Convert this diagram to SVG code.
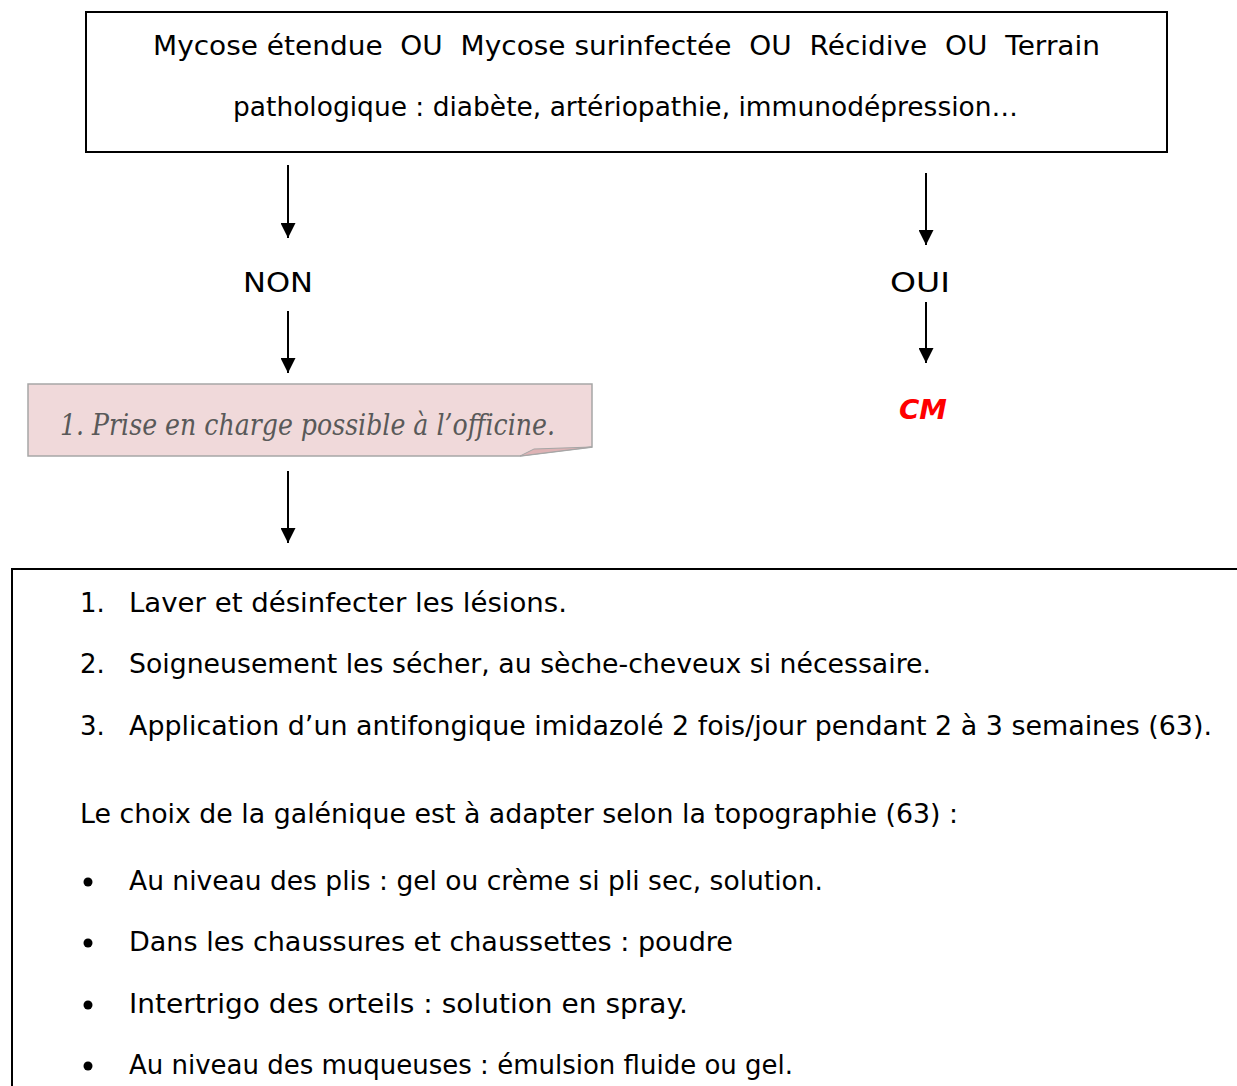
<svg xmlns="http://www.w3.org/2000/svg" width="1237" height="1086" viewBox="0 0 1237 1086">
<style>
.t{font-family:"DejaVu Sans","Noto Sans",sans-serif;font-size:26px;fill:#000}
.box{fill:#fff;stroke:#000;stroke-width:2}
.conn line{stroke:#000;stroke-width:2}
</style>
<defs>
<marker id="ah" viewBox="0 0 10 10" refX="10" refY="5" markerWidth="7.5" markerHeight="7.5" markerUnits="strokeWidth" orient="auto">
<path d="M0,0 L10,5 L0,10 Z" fill="#000"/>
</marker>
</defs>
<rect width="1237" height="1086" fill="#fff"/>
<g id="node-condition">
<rect class="box" x="86" y="12" width="1081" height="140"/>
<text class="t" x="153" y="55" textLength="947" lengthAdjust="spacingAndGlyphs" xml:space="preserve" style="white-space:pre">Mycose étendue  OU  Mycose surinfectée  OU  Récidive  OU  Terrain</text>
<text class="t" x="233" y="116" textLength="785" lengthAdjust="spacingAndGlyphs">pathologique : diabète, artériopathie, immunodépression…</text>
</g>
<g class="conn" id="connectors">
<line x1="288" y1="165" x2="288" y2="238" marker-end="url(#ah)"/>
<line x1="288" y1="311" x2="288" y2="373" marker-end="url(#ah)"/>
<line x1="926" y1="173" x2="926" y2="245" marker-end="url(#ah)"/>
<line x1="926" y1="302" x2="926" y2="363" marker-end="url(#ah)"/>
<line x1="288" y1="471" x2="288" y2="543" marker-end="url(#ah)"/>
</g>
<g id="node-non"><text class="t" x="243" y="292" textLength="70" lengthAdjust="spacingAndGlyphs">NON</text></g>
<g id="node-oui"><text class="t" x="890" y="292" textLength="60" lengthAdjust="spacingAndGlyphs">OUI</text></g>
<g id="node-cm"><text x="899" y="419" font-family="DejaVu Sans,sans-serif" font-size="26" font-weight="bold" font-style="italic" fill="#ff0000" textLength="48" lengthAdjust="spacingAndGlyphs">CM</text></g>
<g id="node-officine">
<path d="M28,384 L592,384 L592,447 L520,456 L28,456 Z" fill="#f0d9da" stroke="#a6a6a6" stroke-width="1.5"/>
<path d="M520,456 L534,449 L592,447 Z" fill="#deb3b5" stroke="#a6a6a6" stroke-width="1"/>
<text x="60" y="435" font-family="DejaVu Serif,Liberation Serif,serif" font-style="italic" font-size="29" fill="#595959" textLength="495" lengthAdjust="spacingAndGlyphs">1. Prise en charge possible à l’officine.</text>
</g>
<g id="node-traitement">
<rect class="box" x="12" y="569" width="1240" height="530"/>
<text class="t" x="80" y="612">1.</text>
<text class="t" x="129" y="612" textLength="438" lengthAdjust="spacingAndGlyphs">Laver et désinfecter les lésions.</text>
<text class="t" x="80" y="673">2.</text>
<text class="t" x="129" y="673" textLength="802" lengthAdjust="spacingAndGlyphs">Soigneusement les sécher, au sèche-cheveux si nécessaire.</text>
<text class="t" x="80" y="735">3.</text>
<text class="t" x="129" y="735" textLength="1083" lengthAdjust="spacingAndGlyphs">Application d’un antifongique imidazolé 2 fois/jour pendant 2 à 3 semaines (63).</text>
<text class="t" x="80" y="823" textLength="878" lengthAdjust="spacingAndGlyphs">Le choix de la galénique est à adapter selon la topographie (63) :</text>
<circle cx="88" cy="882" r="4.5"/>
<text class="t" x="129" y="890" textLength="694" lengthAdjust="spacingAndGlyphs">Au niveau des plis : gel ou crème si pli sec, solution.</text>
<circle cx="88" cy="943" r="4.5"/>
<text class="t" x="129" y="951" textLength="604" lengthAdjust="spacingAndGlyphs">Dans les chaussures et chaussettes : poudre</text>
<circle cx="88" cy="1005" r="4.5"/>
<text class="t" x="129" y="1013" textLength="559" lengthAdjust="spacingAndGlyphs">Intertrigo des orteils : solution en spray.</text>
<circle cx="88" cy="1066" r="4.5"/>
<text class="t" x="129" y="1074" textLength="664" lengthAdjust="spacingAndGlyphs">Au niveau des muqueuses : émulsion fluide ou gel.</text>
</g>
</svg>
